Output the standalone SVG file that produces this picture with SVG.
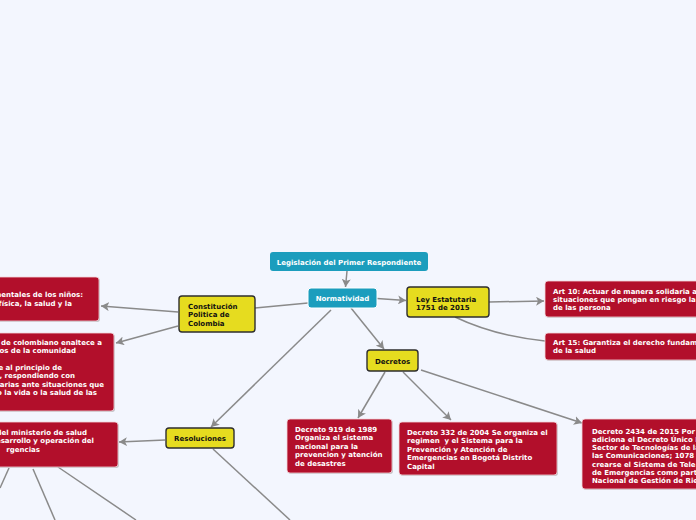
<svg xmlns="http://www.w3.org/2000/svg" width="696" height="520" viewBox="0 0 696 520">
<defs>
<marker id="arr" markerUnits="userSpaceOnUse" markerWidth="9" markerHeight="9" refX="8" refY="4.5" orient="auto">
<path d="M0,0 L8,4.5 L0,9 L2,4.5 z" fill="#8a8a8a"/>
</marker>
<style>
text{font-family:"DejaVu Sans","Liberation Sans",sans-serif;font-weight:bold;font-size:7px;}
.w{fill:#ffffff;}
.k{fill:#111111;}
.c{text-anchor:middle;}
.e{text-anchor:end;}
.teal{fill:#1b9dbd;}
.yel{fill:#e6dc1f;stroke:#2e2e2e;stroke-width:1.4;}
.red{fill:#b20f2b;stroke:#f3d7dc;stroke-width:0.8;}
.sh{fill:#9a9a9a;opacity:0.55;}
.con{fill:none;stroke:#8a8a8a;stroke-width:1.5;}
</style>
</defs>
<rect x="0" y="0" width="696" height="520" fill="#f3f6fe"/>

<g id="connectors">
<path class="con" d="M347 271 L345.5 287" marker-end="url(#arr)"/>
<path class="con" d="M377 298.5 L406 300.5" marker-end="url(#arr)"/>
<path class="con" d="M351 308 L384 349" marker-end="url(#arr)"/>
<path class="con" d="M331 310 L211 427" marker-end="url(#arr)"/>
<path class="con" d="M308 303 L255 308"/>
<path class="con" d="M178 312 L101 306" marker-end="url(#arr)"/>
<path class="con" d="M178 326 L116 343" marker-end="url(#arr)"/>
<path class="con" d="M489 302 L544 301" marker-end="url(#arr)"/>
<path class="con" d="M455 317 Q495 336 545 341"/>
<path class="con" d="M165 440 L119 442" marker-end="url(#arr)"/>
<path class="con" d="M213 449 L290 520"/>
<path class="con" d="M385 372 L358 418" marker-end="url(#arr)"/>
<path class="con" d="M403 372 L451 420" marker-end="url(#arr)"/>
<path class="con" d="M421 370 L582 423" marker-end="url(#arr)"/>
<path class="con" d="M9 468 L0 488"/>
<path class="con" d="M33 469 L55 520"/>
<path class="con" d="M58 467 L136 520"/>
</g>

<g id="title">
<rect class="teal" x="270" y="252" width="158" height="19" rx="3"/>
<text class="w c" x="349" y="264.5">Legislación del Primer Respondiente</text>
</g>

<g id="normatividad">
<rect class="teal" x="308" y="288" width="69" height="20" rx="3" stroke="#ffffff" stroke-width="1"/>
<text class="w c" x="342.5" y="300.8">Normatividad</text>
</g>

<g id="ley">
<rect class="yel" x="407" y="287" width="82" height="30" rx="3"/>
<text class="k" x="416" y="301.5">Ley Estatutaria</text>
<text class="k" x="416" y="310">1751 de 2015</text>
</g>

<g id="decretos">
<rect class="yel" x="367" y="350" width="51" height="21" rx="3"/>
<text class="k c" x="392.5" y="363.5">Decretos</text>
</g>

<g id="constitucion">
<rect class="yel" x="179" y="296" width="76" height="36" rx="3"/>
<text class="k" x="188" y="308.5">Constitución</text>
<text class="k" x="188" y="317">Politica de</text>
<text class="k" x="188" y="325.5">Colombia</text>
</g>

<g id="resoluciones">
<rect class="yel" x="166" y="428" width="68" height="20" rx="3"/>
<text class="k c" x="200" y="440.5">Resoluciones</text>
</g>

<g id="art44">
<rect class="sh" x="-9" y="278" width="109" height="44" rx="3"/>
<rect class="red" x="-10" y="277" width="109" height="44" rx="3"/>
<text class="w e" x="83" y="296.5">mentales de los niños:</text>
<text class="w e" x="72" y="305.5">física, la salud y la</text>
</g>

<g id="art95">
<rect class="sh" x="-9" y="334" width="124" height="78" rx="3"/>
<rect class="red" x="-10" y="333" width="124" height="78" rx="3"/>
<text class="w e" x="102" y="344.5">de colombiano enaltece a</text>
<text class="w e" x="76" y="352.8">os de la comunidad</text>
<text class="w e" x="62" y="369.5">e al principio de</text>
<text class="w e" x="75" y="378.2">, respondiendo con</text>
<text class="w e" x="104" y="386.8">tarias ante situaciones que</text>
<text class="w e" x="97" y="395.4">o la vida o la salud de las</text>
</g>

<g id="resolucion-minsalud">
<rect class="sh" x="-9" y="423" width="128" height="45" rx="3"/>
<rect class="red" x="-10" y="422" width="128" height="45" rx="3"/>
<text class="w e" x="87" y="434.5">del ministerio de salud</text>
<text class="w e" x="94" y="443">esarrollo y operación del</text>
<text class="w e" x="40" y="451.5">rgencias</text>
</g>

<g id="art10">
<rect class="sh" x="546" y="282" width="160" height="36" rx="3"/>
<rect class="red" x="545" y="281" width="160" height="36" rx="3"/>
<text class="w" x="553" y="293.5">Art 10: Actuar de manera solidaria a</text>
<text class="w" x="553" y="301.8">situaciones que pongan en riesgo la</text>
<text class="w" x="553" y="310">de las persona</text>
</g>

<g id="art15">
<rect class="sh" x="546" y="334" width="160" height="27" rx="3"/>
<rect class="red" x="545" y="333" width="160" height="27" rx="3"/>
<text class="w" x="553" y="344.5">Art 15: Garantiza el derecho fundam</text>
<text class="w" x="553" y="353">de la salud</text>
</g>

<g id="decreto919">
<rect class="sh" x="288" y="420" width="105" height="54" rx="3"/>
<rect class="red" x="287" y="419" width="105" height="54" rx="3"/>
<text class="w" x="295" y="431.5">Decreto 919 de 1989</text>
<text class="w" x="295" y="440">Organiza el sistema</text>
<text class="w" x="295" y="448.5">nacional para la</text>
<text class="w" x="295" y="457">prevencion y atención</text>
<text class="w" x="295" y="465.5">de desastres</text>
</g>

<g id="decreto332">
<rect class="sh" x="400" y="423" width="158" height="53" rx="3"/>
<rect class="red" x="399" y="422" width="158" height="53" rx="3"/>
<text class="w" x="407" y="434.5">Decreto 332 de 2004 Se organiza el</text>
<text class="w" x="407" y="443" xml:space="preserve">regimen  y el Sistema para la</text>
<text class="w" x="407" y="451.5">Prevención y Atención de</text>
<text class="w" x="407" y="460">Emergencias en Bogotá Distrito</text>
<text class="w" x="407" y="468.5">Capital</text>
</g>

<g id="decreto2434">
<rect class="sh" x="583" y="420" width="130" height="70" rx="3"/>
<rect class="red" x="582" y="419" width="130" height="70" rx="3"/>
<text class="w" x="592" y="433.5">Decreto 2434 de 2015 Por</text>
<text class="w" x="592" y="441.8">adiciona el Decreto Único R</text>
<text class="w" x="592" y="450.1">Sector de Tecnologías de la</text>
<text class="w" x="592" y="458.4">las Comunicaciones; 1078</text>
<text class="w" x="592" y="466.7">crearse el Sistema de Tele</text>
<text class="w" x="592" y="475">de Emergencias como part</text>
<text class="w" x="592" y="483.3">Nacional de Gestión de Rie</text>
</g>
</svg>
